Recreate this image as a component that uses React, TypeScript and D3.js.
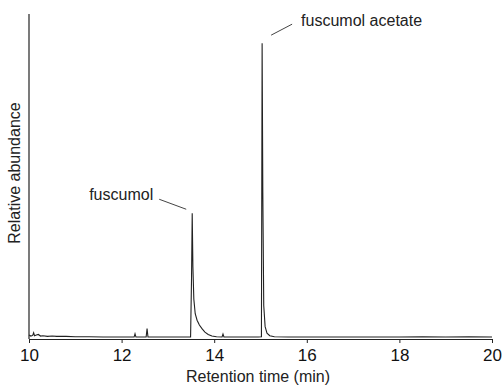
import React, { useEffect, useRef } from 'react';
import * as d3 from 'd3';

// chromatogram trace: retention time (min) and relative abundance (%)
const times = [
  10.0, 10.04, 10.08, 10.1, 10.12, 10.16, 10.2, 10.25, 10.3, 10.4, 10.5, 10.6, 10.8, 11.0, 11.3, 11.6,
  11.9, 12.1, 12.27, 12.29, 12.31, 12.4, 12.53, 12.55, 12.57, 12.8, 13.1, 13.3, 13.49, 13.51, 13.525,
  13.54, 13.56, 13.59, 13.63, 13.68, 13.74, 13.8, 13.87, 13.95, 14.05, 14.17, 14.19, 14.21, 14.4,
  14.7, 14.95, 15.02, 15.035, 15.05, 15.07, 15.1, 15.14, 15.2, 15.3, 15.6, 16.0, 16.5, 17.0, 17.5,
  18.0, 18.5, 19.0, 19.5, 20.0,
];
const abundance = [
  0.9, 0.6, 0.8, 1.6, 0.7, 0.9, 1.1, 0.6, 0.7, 0.5, 0.6, 0.5, 0.5, 0.4, 0.4, 0.3,
  0.3, 0.3, 0.3, 1.3, 0.3, 0.3, 0.3, 2.9, 0.3, 0.3, 0.3, 0.3, 0.3, 18, 38.5,
  22, 12, 7.5, 5.5, 4.0, 2.8, 1.8, 1.1, 0.6, 0.4, 0.3, 1.2, 0.3, 0.3,
  0.3, 0.3, 0.4, 91, 45, 10, 3.5, 1.5, 0.7, 0.4, 0.3, 0.3, 0.3, 0.3, 0.3,
  0.3, 0.4, 0.3, 0.4, 0.3,
];

const xTicks = [10, 12, 14, 16, 18, 20];

// peak labels
const peakNames = ['fuscumol', 'fuscumol acetate'];
const peakTimes = [13.525, 15.035];

const App = () => {
  const svgRef = useRef(null);

  useEffect(() => {
    const svg = d3.select(svgRef.current);
    svg.selectAll('*').remove();

    const font = 'Liberation Sans, Arial, sans-serif';
    const x = d3.scaleLinear().domain([10, 20]).range([29, 492]);
    const y = d3.scaleLinear().domain([0, 100]).range([338, 14]);

    const data = times.map((t, i) => ({ t, v: abundance[i] }));

    // axes
    svg.append('line')
      .attr('x1', x(10)).attr('x2', x(10))
      .attr('y1', y(100)).attr('y2', y(0) + 1)
      .attr('stroke', '#222').attr('stroke-width', 1.2);

    const xAxis = d3.axisBottom(x).tickValues(xTicks).tickSize(4).tickSizeOuter(0).tickPadding(6)
      .tickFormat(d3.format('d'));
    const gx = svg.append('g')
      .attr('transform', `translate(0,${y(0) + 1})`)
      .call(xAxis);
    gx.select('.domain').attr('stroke', '#222').attr('stroke-width', 1.2);
    gx.selectAll('.tick line').attr('stroke', '#222');
    gx.selectAll('.tick text')
      .attr('font-family', font).attr('font-size', 17).attr('fill', '#111');

    // trace
    const line = d3.line().x(d => x(d.t)).y(d => y(d.v));
    svg.append('path')
      .datum(data)
      .attr('d', line)
      .attr('fill', 'none')
      .attr('stroke', '#222')
      .attr('stroke-width', 1.1);

    // axis titles
    svg.append('text')
      .attr('x', 258).attr('y', 382)
      .attr('text-anchor', 'middle')
      .attr('font-family', font).attr('font-size', 16).attr('fill', '#222')
      .text('Retention time (min)');

    svg.append('text')
      .attr('transform', `translate(20,${(y(0) + y(100)) / 2 - 3}) rotate(-90)`)
      .attr('text-anchor', 'middle')
      .attr('font-family', font).attr('font-size', 16).attr('fill', '#222')
      .text('Relative abundance');

    // fuscumol label
    const p0x = x(peakTimes[0]);
    const p0y = y(abundance[times.indexOf(peakTimes[0])]);
    svg.append('line')
      .attr('x1', p0x - 33).attr('y1', p0y - 14)
      .attr('x2', p0x - 6).attr('y2', p0y - 4)
      .attr('stroke', '#444').attr('stroke-width', 1);
    svg.append('text')
      .attr('x', p0x - 39).attr('y', p0y - 13)
      .attr('text-anchor', 'end')
      .attr('font-family', font).attr('font-size', 16).attr('fill', '#222')
      .text(peakNames[0]);

    // fuscumol acetate label
    const p1x = x(peakTimes[1]);
    const p1y = y(abundance[times.indexOf(peakTimes[1])]);
    svg.append('line')
      .attr('x1', p1x + 9).attr('y1', p1y - 8)
      .attr('x2', p1x + 30).attr('y2', p1y - 19)
      .attr('stroke', '#444').attr('stroke-width', 1);
    svg.append('text')
      .attr('x', p1x + 39).attr('y', p1y - 17)
      .attr('font-family', font).attr('font-size', 16).attr('fill', '#222')
      .text(peakNames[1]);
  }, []);

  return (
    <svg ref={svgRef} width={504} height={386}
      style={{ position: 'absolute', left: 0, top: 0, background: '#fff' }} />
  );
};

export default App;
